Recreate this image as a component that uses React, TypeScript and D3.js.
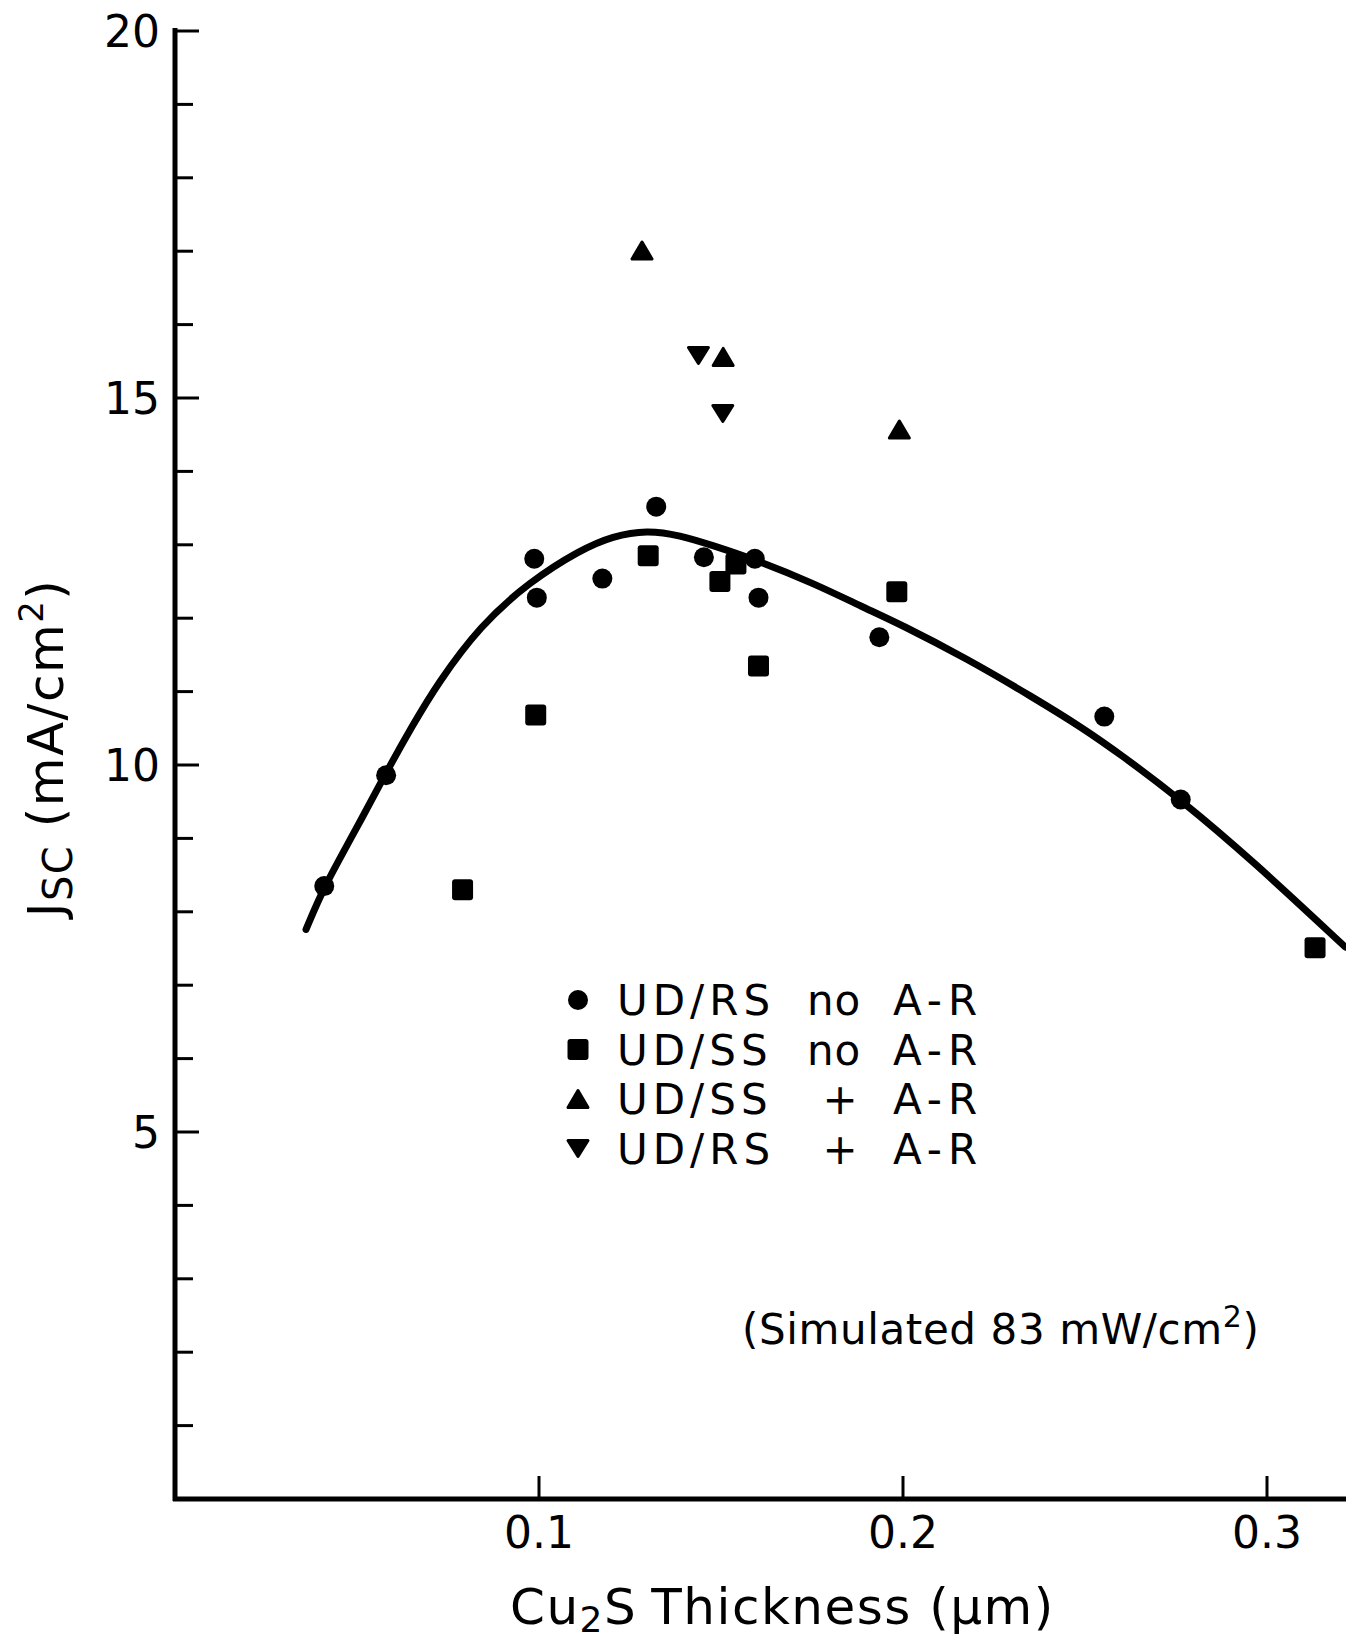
import React from 'react';
import * as d3 from 'd3';

// Jsc vs Cu2S thickness
const udRsNoAR: [number, number][] = [
  [0.041, 8.35], [0.058, 9.86], [0.0987, 12.81], [0.0994, 12.28], [0.1174, 12.54],
  [0.1322, 13.52], [0.1453, 12.83], [0.1593, 12.81], [0.1603, 12.28], [0.1935, 11.74],
  [0.2553, 10.66], [0.2763, 9.53],
];
const udSsNoAR: [number, number][] = [
  [0.079, 8.3], [0.0991, 10.68], [0.13, 12.85], [0.1497, 12.5], [0.1541, 12.74],
  [0.1603, 11.35], [0.1983, 12.36], [0.3132, 7.51],
];
const udSsAR: [number, number][] = [[0.1283, 17.01], [0.1506, 15.56], [0.199, 14.57]];
const udRsAR: [number, number][] = [[0.1438, 15.58], [0.1505, 14.79]];

// hand-drawn fit curve
const fitCurve: [number, number][] = [
  [0.036, 7.76], [0.041, 8.35], [0.0495, 9.1], [0.058, 9.9], [0.0654, 10.55], [0.072, 11.1],
  [0.0838, 11.9], [0.0975, 12.5], [0.1113, 12.93], [0.1203, 13.12], [0.1297, 13.2],
  [0.1387, 13.13], [0.1478, 12.99], [0.1593, 12.8], [0.1753, 12.48], [0.189, 12.15],
  [0.1992, 11.92], [0.2175, 11.45], [0.2358, 10.92], [0.2495, 10.5], [0.2596, 10.15],
  [0.2763, 9.53], [0.2962, 8.69], [0.3215, 7.52],
];

const xTicks = [0.1, 0.2, 0.3];
const xTickLabels = ['0.1', '0.2', '0.3'];
const yMinorTicks = d3.range(1, 21);
const yLabelTicks = [5, 10, 15, 20];

const W = 1346;
const H = 1643;
const FONT = '"DejaVu Sans", sans-serif';

const x = d3.scaleLinear().domain([0, 0.3]).range([175, 1267]);
const y = d3.scaleLinear().domain([0, 20]).range([1499, 31]);

const line = d3.line<[number, number]>()
  .x(d => x(d[0]))
  .y(d => y(d[1]))
  .curve(d3.curveBasis);

const triUp = (w: number, h: number) => `M0,${-h / 2}L${w / 2},${h / 2}L${-w / 2},${h / 2}Z`;
const triDown = (w: number, h: number) => `M0,${h / 2}L${w / 2},${-h / 2}L${-w / 2},${-h / 2}Z`;

const Circle = ({ cx, cy }: { cx: number; cy: number }) => <circle cx={cx} cy={cy} r={10} fill="#000" />;
const Square = ({ cx, cy }: { cx: number; cy: number }) => (
  <rect x={cx - 10.5} y={cy - 10.5} width={21} height={21} rx={3} fill="#000" />
);
const Up = ({ cx, cy }: { cx: number; cy: number }) => (
  <path d={triUp(20, 17)} transform={`translate(${cx},${cy})`} fill="#000" stroke="#000" strokeWidth={3} strokeLinejoin="round" />
);
const Down = ({ cx, cy }: { cx: number; cy: number }) => (
  <path d={triDown(20, 16)} transform={`translate(${cx},${cy})`} fill="#000" stroke="#000" strokeWidth={3} strokeLinejoin="round" />
);

const legendRows = [
  { Sym: Circle, name: 'UD/RS', mid: 'no' },
  { Sym: Square, name: 'UD/SS', mid: 'no' },
  { Sym: Up, name: 'UD/SS', mid: '+' },
  { Sym: Down, name: 'UD/RS', mid: '+' },
];

export default function App() {
  const x0 = x(0);
  const yBase = y(0);
  return (
    <div style={{ position: 'absolute', left: 0, top: 0 }}>
      <svg width={W} height={H} style={{ display: 'block', background: '#fff' }} fontFamily={FONT}>
        <rect width={W} height={H} fill="#fff" />

        {/* axes */}
        <line x1={x0} x2={x0} y1={y(20) - 3} y2={yBase + 2} stroke="#000" strokeWidth={5} />
        <line x1={x0 - 2} x2={W} y1={yBase} y2={yBase} stroke="#000" strokeWidth={5} />

        {yMinorTicks.map(t => (
          <line key={t} x1={x0} x2={x0 + (t % 5 === 0 ? 24 : 18)} y1={y(t)} y2={y(t)} stroke="#000" strokeWidth={3} />
        ))}
        {yLabelTicks.map(t => (
          <text key={t} x={160} y={y(t)} dy="0.36em" textAnchor="end" fontSize={44}>{t}</text>
        ))}

        {xTicks.map((t, i) => (
          <g key={t}>
            <line x1={x(t)} x2={x(t)} y1={yBase} y2={yBase - 23} stroke="#000" strokeWidth={3} />
            <text x={x(t)} y={1548} textAnchor="middle" fontSize={44}>{xTickLabels[i]}</text>
          </g>
        ))}

        {/* axis titles */}
        <text x={510} y={1624} fontSize={50} letterSpacing={1.5}>
          <tspan>Cu</tspan>
          <tspan fontSize={36} dy={8}>2</tspan>
          <tspan dy={-8}>S</tspan>
          <tspan dx={14}>Thickness (µm)</tspan>
        </text>
        <text transform="translate(63,748) rotate(-90)" textAnchor="middle" fontSize={50} letterSpacing={1.5}>
          <tspan>J</tspan>
          <tspan fontSize={40} dy={9}>SC</tspan>
          <tspan dy={-9}> (mA/cm</tspan>
          <tspan fontSize={34} dy={-20}>2</tspan>
          <tspan dy={20}>)</tspan>
        </text>

        {/* fit curve */}
        <path d={line(fitCurve) ?? ''} fill="none" stroke="#000" strokeWidth={7} strokeLinecap="round" />

        {/* data */}
        {udRsNoAR.map((d, i) => <Circle key={'c' + i} cx={x(d[0])} cy={y(d[1])} />)}
        {udSsNoAR.map((d, i) => <Square key={'s' + i} cx={x(d[0])} cy={y(d[1])} />)}
        {udSsAR.map((d, i) => <Up key={'u' + i} cx={x(d[0])} cy={y(d[1])} />)}
        {udRsAR.map((d, i) => <Down key={'d' + i} cx={x(d[0])} cy={y(d[1])} />)}

        {/* legend */}
        {legendRows.map((r, i) => {
          const cy = 1000 + i * 49.5;
          const Sym = r.Sym;
          return (
            <g key={i}>
              <Sym cx={578} cy={cy} />
              <text x={617} y={cy + 15} fontSize={42} letterSpacing={5}>{r.name}</text>
              {r.mid === 'no'
                ? <text x={807} y={cy + 15} fontSize={42} letterSpacing={1}>no</text>
                : <text x={840} y={cy + 15} fontSize={42} textAnchor="middle">+</text>}
              <text x={893} y={cy + 15} fontSize={42} letterSpacing={6}>A-R</text>
            </g>
          );
        })}

        {/* annotation */}
        <text x={742} y={1344} fontSize={42} letterSpacing={0.6}>
          <tspan>(Simulated 83 mW/cm</tspan>
          <tspan fontSize={30} dy={-17}>2</tspan>
          <tspan dy={17}>)</tspan>
        </text>
      </svg>
    </div>
  );
}
